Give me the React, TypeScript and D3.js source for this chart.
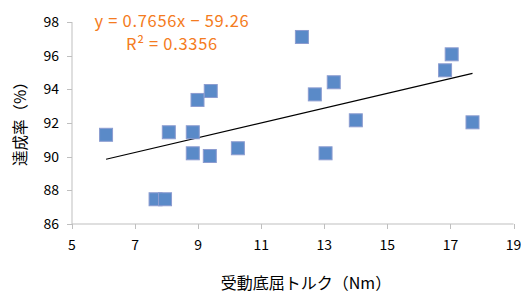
import React from "react";
import * as d3 from "d3";

const torqueNm = [6.08, 7.65, 7.95, 8.07, 8.83, 8.98, 9.4, 8.83, 9.37, 10.26, 12.29, 12.7, 13.3, 14.0, 13.04, 16.83, 17.04, 17.7];
const achievementPct = [91.3, 87.47, 87.47, 91.45, 91.45, 93.37, 93.9, 90.2, 90.04, 90.5, 97.11, 93.7, 94.42, 92.16, 90.2, 95.13, 96.08, 92.04];
const xTicks = [5, 7, 9, 11, 13, 15, 17, 19];
const yTicks = [86, 88, 90, 92, 94, 96, 98];
const equationLines = ["y = 0.7656x \u2212 59.26", "R\u00b2 = 0.3356"];
const xTitle = "受動底屈トルク（Nm）";
const yTitle = "達成率（%）";

const W = 521;
const H = 295;
const FONT = "'Noto Sans CJK JP', 'Noto Sans', sans-serif";

export default function App() {
  const x = d3.scaleLinear().domain([5, 19]).range([72, 513.5]);
  const y = d3.scaleLinear().domain([86, 98]).range([224, 22]);
  const axisColor = "#BFBFBF";

  // least squares trendline
  const n = torqueNm.length;
  const mx = d3.mean(torqueNm)!;
  const my = d3.mean(achievementPct)!;
  let sxy = 0, sxx = 0;
  for (let i = 0; i < n; i++) {
    sxy += (torqueNm[i] - mx) * (achievementPct[i] - my);
    sxx += (torqueNm[i] - mx) ** 2;
  }
  const slope = sxy / sxx;
  const icpt = my - slope * mx;
  const [x0, x1] = d3.extent(torqueNm) as [number, number];
  const trend = d3.line<number>().x((d) => x(d)).y((d) => y(slope * d + icpt));

  const ms = 13;

  return (
    <svg width={W} height={H} style={{ position: "absolute", left: 0, top: 0, background: "#fff" }} fontFamily={FONT}>
      {/* axes */}
      <line x1={x(5)} x2={x(5)} y1={y(98)} y2={y(86)} stroke={axisColor} strokeWidth={1} />
      <line x1={x(5)} x2={x(19)} y1={y(86)} y2={y(86)} stroke={axisColor} strokeWidth={1} />
      {yTicks.map((t) => (
        <g key={"y" + t}>
          <line x1={x(5) - 5} x2={x(5)} y1={Math.round(y(t)) + 0.5} y2={Math.round(y(t)) + 0.5} stroke={axisColor} />
          <text x={59} y={y(t) + 5} textAnchor="end" fontSize={14} fill="#000">{t}</text>
        </g>
      ))}
      {xTicks.map((t) => (
        <g key={"x" + t}>
          <line x1={Math.round(x(t)) + 0.5} x2={Math.round(x(t)) + 0.5} y1={y(86)} y2={y(86) + 5} stroke={axisColor} />
          <text x={x(t)} y={250} textAnchor="middle" fontSize={14} fill="#000">{t}</text>
        </g>
      ))}
      {/* trendline */}
      <path d={trend([x0, x1])!} stroke="#000" strokeWidth={1.2} fill="none" />
      {/* points */}
      {torqueNm.map((v, i) => (
        <rect
          key={i}
          x={x(v) - ms / 2}
          y={y(achievementPct[i]) - ms / 2}
          width={ms}
          height={ms}
          fill="#5A8AC8"
          stroke="#8C9CD0"
          strokeWidth={1}
        />
      ))}
      {/* equation */}
      {equationLines.map((s, i) => (
        <text key={s} x={172} y={27 + i * 23} textAnchor="middle" fontSize={16.5} letterSpacing={0.7} fill="#F47B20">{s}</text>
      ))}
      {/* titles */}
      <text x={306} y={289} textAnchor="middle" fontSize={16} fill="#000">{xTitle}</text>
      <text transform="translate(26,120) rotate(-90)" textAnchor="middle" fontSize={15.5} fill="#000">{yTitle}</text>
    </svg>
  );
}
